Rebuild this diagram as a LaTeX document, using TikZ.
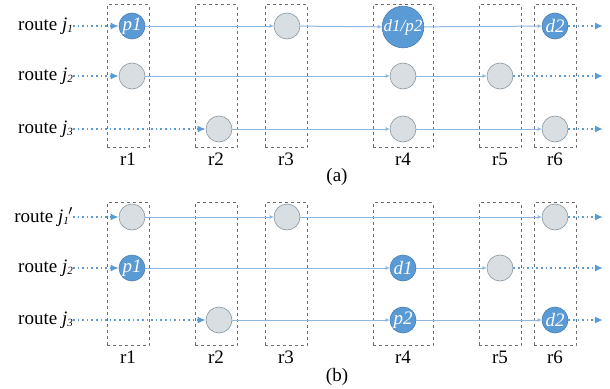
\documentclass[tikz,border=0pt]{standalone}
\usepackage{fontspec}
\setmainfont{Liberation Serif}
\usepackage{tikz}
\usetikzlibrary{arrows.meta,positioning}
\definecolor{RouteBlue}{HTML}{5B9BD5}
\definecolor{RouteEdge}{HTML}{4A7EB0}
\definecolor{RouteLine}{HTML}{8DB6E0}
\definecolor{TaskGray}{HTML}{D8DEE1}
\definecolor{TaskEdge}{HTML}{8A979E}
\definecolor{BoxGray}{HTML}{6E6E6E}
\newcommand{\rsub}[1]{\textit{j}\raisebox{-2pt}{\fontsize{11}{11}\selectfont\itshape #1}}
\tikzset{
  regbox/.style={draw=BoxGray,dashed,line width=0.7pt,minimum width=42pt,minimum height=143pt,inner sep=0pt},
  widebox/.style={regbox,minimum width=60pt},
  task/.style={circle,draw=TaskEdge,fill=TaskGray,line width=0.6pt,minimum size=26pt,inner sep=0pt},
  hit/.style={task,draw=RouteEdge,fill=RouteBlue,text=white,font=\fontsize{19}{19}\selectfont\itshape},
  bighit/.style={hit,minimum size=40pt,font=\fontsize{17}{17}\selectfont\itshape},
  tag/.style={font=\fontsize{19}{21}\selectfont,inner sep=1pt},
  routelabel/.style={tag,anchor=east,inner sep=0pt},
  flow/.style={-{Latex[length=4pt,width=4pt]},line width=1pt,draw=RouteLine},
  tail/.style={-{Latex[length=8pt,width=7pt]},line width=1.6pt,draw=RouteBlue,dash pattern=on 1.6pt off 3pt}
}
\begin{document}
\begin{tikzpicture}[x=1pt,y=-1pt]
  \useasboundingbox (0,0) rectangle (610,388);
  % (a)
  \node[regbox] (ar1) at (128,76) {};
  \node[regbox] (ar2) at (216,76) {};
  \node[regbox] (ar3) at (286,76) {};
  \node[widebox] (ar4) at (403,76) {};
  \node[regbox] (ar5) at (500,76) {};
  \node[regbox] (ar6) at (555,76) {};
  \node[tag,below=4pt of ar1] {r1};
  \node[tag,below=4pt of ar2] {r2};
  \node[tag,below=4pt of ar3] {r3};
  \node[tag,below=4pt of ar4] {r4};
  \node[tag,below=4pt of ar5] {r5};
  \node[tag,below=4pt of ar6] {r6};
  \node[tag] (acap) at (337,177) {(a)};
  \node[routelabel] (aj1) at (73,26) {route \rsub{1}};
  \node[routelabel] (aj2) at (73,76) {route \rsub{2}};
  \node[routelabel] (aj3) at (73,129) {route \rsub{3}};
  \node[hit] (a11) at (132,26) {p1};
  \node[task] (a13) at (287,26) {};
  \node[bighit] (a14) at (403,27) {d1/p2};
  \node[hit] (a16) at (555,26) {d2};
  \node[task] (a21) at (132,76) {};
  \node[task] (a24) at (403,76) {};
  \node[task] (a25) at (500,76) {};
  \node[task] (a32) at (219,129) {};
  \node[task] (a34) at (403,129) {};
  \node[task] (a36) at (555,129) {};
  \coordinate (aout1) at (603,26);
  \coordinate (aout2) at (603,76);
  \coordinate (aout3) at (603,129);
  \draw[tail] (aj1) -- (a11); \draw[flow] (a11) -- (a13); \draw[flow] (a13) -- (a14);
  \draw[flow] (a14) -- (a16); \draw[tail] (a16) -- (aout1);
  \draw[tail] (aj2) -- (a21); \draw[flow] (a21) -- (a24); \draw[flow] (a24) -- (a25);
  \draw[tail] (a25) -- (aout2);
  \draw[tail] (aj3) -- (a32); \draw[flow] (a32) -- (a34); \draw[flow] (a34) -- (a36);
  \draw[tail] (a36) -- (aout3);
  % (b)
  \node[regbox] (br1) at (128,274) {};
  \node[regbox] (br2) at (216,274) {};
  \node[regbox] (br3) at (286,274) {};
  \node[widebox] (br4) at (403,274) {};
  \node[regbox] (br5) at (500,274) {};
  \node[regbox] (br6) at (555,274) {};
  \node[tag,below=4pt of br1] {r1};
  \node[tag,below=4pt of br2] {r2};
  \node[tag,below=4pt of br3] {r3};
  \node[tag,below=4pt of br4] {r4};
  \node[tag,below=4pt of br5] {r5};
  \node[tag,below=4pt of br6] {r6};
  \node[tag] (bcap) at (337,377) {(b)};
  \node[routelabel] (bj1) at (73,217) {route \rsub{1}\kern-0.5pt$'$};
  \node[routelabel] (bj2) at (73,268) {route \rsub{2}};
  \node[routelabel] (bj3) at (73,320) {route \rsub{3}};
  \node[task] (b11) at (132,217) {};
  \node[task] (b13) at (287,217) {};
  \node[task] (b16) at (555,217) {};
  \node[hit] (b21) at (132,268) {p1};
  \node[hit] (b24) at (403,268) {d1};
  \node[task] (b25) at (500,268) {};
  \node[task] (b32) at (219,320) {};
  \node[hit] (b34) at (403,320) {p2};
  \node[hit] (b36) at (555,320) {d2};
  \coordinate (bout1) at (603,217);
  \coordinate (bout2) at (603,268);
  \coordinate (bout3) at (603,320);
  \draw[tail] (bj1) -- (b11); \draw[flow] (b11) -- (b13); \draw[flow] (b13) -- (b16);
  \draw[tail] (b16) -- (bout1);
  \draw[tail] (bj2) -- (b21); \draw[flow] (b21) -- (b24); \draw[flow] (b24) -- (b25);
  \draw[tail] (b25) -- (bout2);
  \draw[tail] (bj3) -- (b32); \draw[flow] (b32) -- (b34); \draw[flow] (b34) -- (b36);
  \draw[tail] (b36) -- (bout3);
\end{tikzpicture}
\end{document}
